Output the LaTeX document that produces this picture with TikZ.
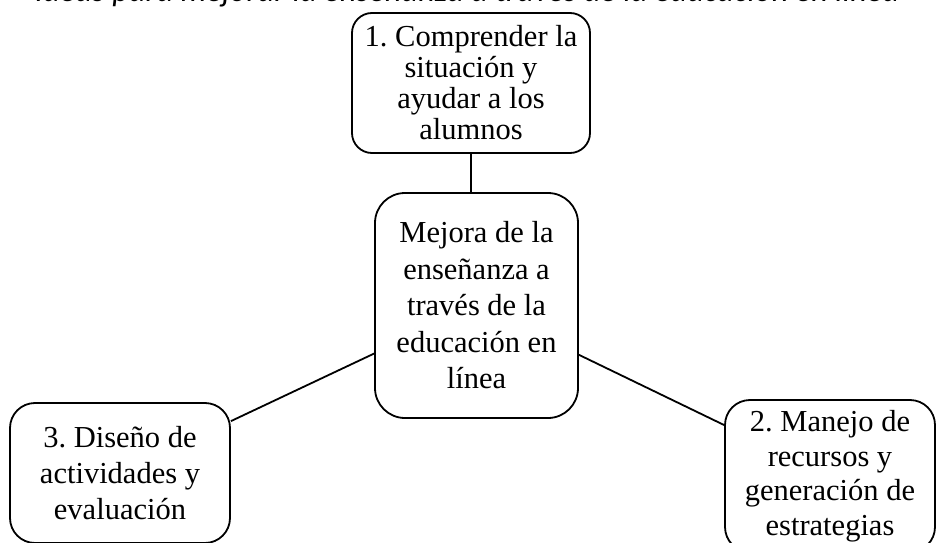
\documentclass[tikz,border=0pt]{standalone}
\usepackage{fontspec}
\setmainfont{Liberation Serif}
\newfontfamily\capfont{Carlito}
\frenchspacing
\begin{document}
\begin{tikzpicture}[x=1pt,y=-1pt,
  box/.style={draw, line width=1.8pt, align=center, inner sep=0pt, font=\fontsize{30.5}{36.5}\selectfont},
  link/.style={line width=1.8pt}]
\useasboundingbox (0,0) rectangle (938,543);
\clip (0,0) rectangle (938,543);
\node[anchor=base west, inner sep=0pt, font=\capfont\itshape\fontsize{32.5}{36}\selectfont] (cap) at (35,1.5) {Ideas para mejorar la enseñanza a través de la educación en línea};
\node[box, rounded corners=20pt, minimum width=238pt, minimum height=140pt, font=\fontsize{30.5}{31}\selectfont] (top) at (471,83) {1. Comprender la\\situación y\\ayudar a los\\alumnos};
\node[box, rounded corners=30pt, minimum width=203pt, minimum height=225pt] (mid) at (476.5,305.5) {Mejora de la\\enseñanza a\\través de la\\educación en\\línea};
\node[box, rounded corners=25pt, minimum width=220pt, minimum height=140pt, font=\fontsize{30.5}{36}\selectfont] (left) at (120,473) {3. Diseño de\\actividades y\\evaluación};
\node[box, rounded corners=25pt, minimum width=210pt, minimum height=152pt, font=\fontsize{30.5}{34.5}\selectfont] (right) at (830,476) {2. Manejo de\\recursos y\\generación de\\estrategias};
\draw[link] (top.south) -- (top.south |- mid.north);
\draw[link] (mid) -- (left);
\draw[link] (mid) -- (right);
\end{tikzpicture}
\end{document}
